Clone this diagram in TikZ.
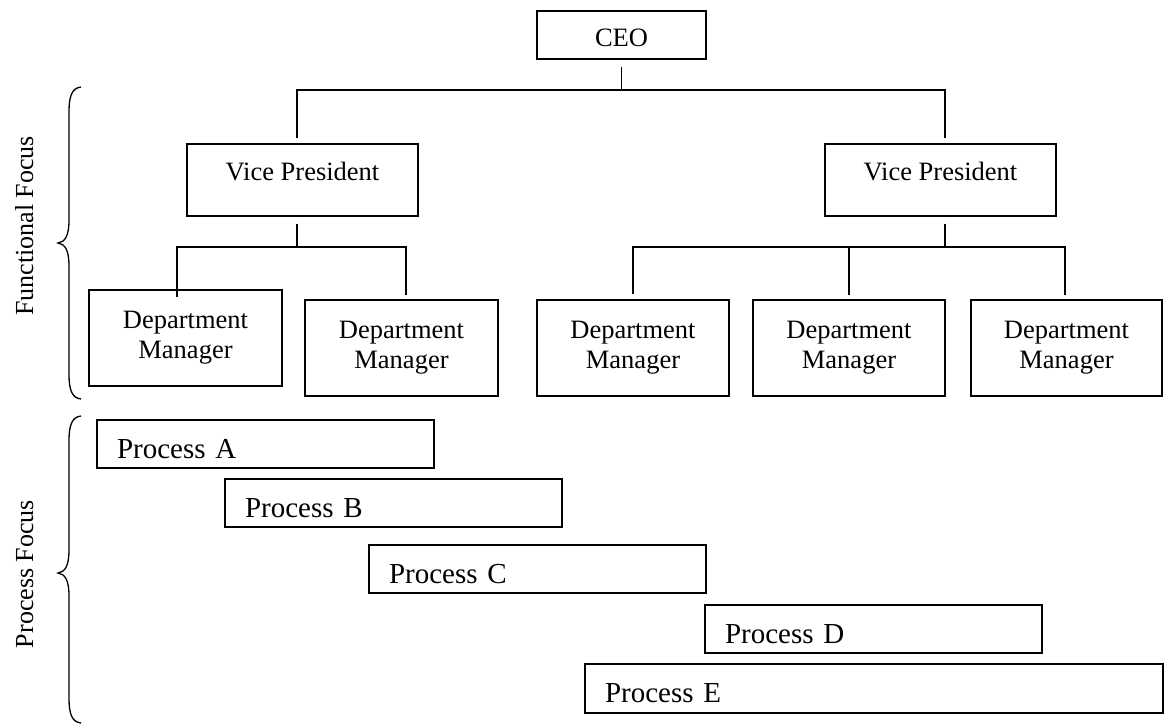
\documentclass[tikz,border=0pt]{standalone}
\usepackage{fontspec}
\setmainfont{Liberation Serif}
\usetikzlibrary{calc}
\begin{document}
\begin{tikzpicture}[x=1pt,y=-1pt,
  conn/.style={line width=1.4pt},
  orgbox/.style={draw, line width=1.4pt, inner sep=0pt, align=center, font=\fontsize{26.5}{30}\selectfont},
  procbox/.style={draw, line width=1.4pt, inner xsep=20pt, inner ysep=0pt, minimum height=48pt, text height=30pt, text depth=2pt, align=left, font=\fontsize{29}{34}\selectfont},
  sidelabel/.style={rotate=90, anchor=base, font=\fontsize{26}{30}\selectfont},
  bracepath/.style={line width=1.3pt}]

\useasboundingbox (0,0) rectangle (1165,726);

% org chart boxes
\node[orgbox, minimum width=169pt, minimum height=48pt, text height=22pt, text depth=0pt] (ceo) at (621.5,35) {CEO};
\node[orgbox, minimum width=231pt, minimum height=72pt, text height=10pt, text depth=10pt] (vp1) at (302.5,180) {Vice President};
\node[orgbox, minimum width=231pt, minimum height=72pt, text height=10pt, text depth=10pt] (vp2) at (940.5,180) {Vice President};
\node[orgbox, minimum width=193pt, minimum height=96pt] (dm1) at (185.5,338) {Department\\Manager};
\node[orgbox, minimum width=193pt, minimum height=96pt] (dm2) at (401.5,348) {Department\\Manager};
\node[orgbox, minimum width=192pt, minimum height=96pt] (dm3) at (633,348) {Department\\Manager};
\node[orgbox, minimum width=192pt, minimum height=96pt] (dm4) at (849,348) {Department\\Manager};
\node[orgbox, minimum width=191pt, minimum height=96pt] (dm5) at (1066.5,348) {Department\\Manager};

% connectors
\coordinate (j1a) at (297,90);
\coordinate (j1b) at (945,90);
\draw[conn] ([yshift=-7pt]ceo.south) -- (ceo.south |- j1a);
\draw[conn] ([yshift=5pt]j1a |- vp1.north) -- (j1a) -- (j1b) -- ([yshift=5pt]j1b |- vp2.north);

\coordinate (j2) at (297,247);
\coordinate (d1) at (177,247);
\coordinate (d2) at (406,247);
\draw[conn] ([yshift=-7pt]j2 |- vp1.south) -- (j2);
\draw[conn] ([yshift=-8pt]d1 |- dm1.north) -- (d1) -- (d2) -- ([yshift=4pt]d2 |- dm2.north);

\coordinate (j3) at (945,247);
\coordinate (d3) at (633,247);
\coordinate (d4) at (849,247);
\coordinate (d5) at (1065,247);
\draw[conn] ([yshift=-7pt]j3 |- vp2.south) -- (j3);
\draw[conn] ([yshift=5pt]d3 |- dm3.north) -- (d3) -- (d5) -- ([yshift=4pt]d5 |- dm5.north);
\draw[conn] (d4) -- ([yshift=4pt]d4 |- dm4.north);

% process boxes
\node[procbox, text width=297pt] (pa) at (265.5,444) {Process A};
\node[procbox, text width=297pt] (pb) at (393.5,503) {Process B};
\node[procbox, text width=297pt] (pc) at (537.5,569) {Process C};
\node[procbox, text width=297pt] (pd) at (873.5,629) {Process D};
\node[procbox, text width=538pt, minimum height=49pt] (pe) at (874,688.5) {Process E};

% braces
\draw[bracepath] (81,87) .. controls (72,88) and (69,96) .. (69,112) -- (69,220)
  .. controls (69,236) and (65,242) .. (58,243)
  .. controls (65,244) and (69,250) .. (69,266) -- (69,374)
  .. controls (69,390) and (72,398) .. (81,399);
\draw[bracepath] (81,416) .. controls (72,417) and (69,425) .. (69,441) -- (69,550)
  .. controls (69,566) and (65,572) .. (58,573)
  .. controls (65,574) and (69,580) .. (69,596) -- (69,698)
  .. controls (69,714) and (72,722) .. (81,723);

% side labels
\node[sidelabel] (lf) at (33,226) {Functional Focus};
\node[sidelabel] (lp) at (33,574) {Process Focus};
\end{tikzpicture}
\end{document}
